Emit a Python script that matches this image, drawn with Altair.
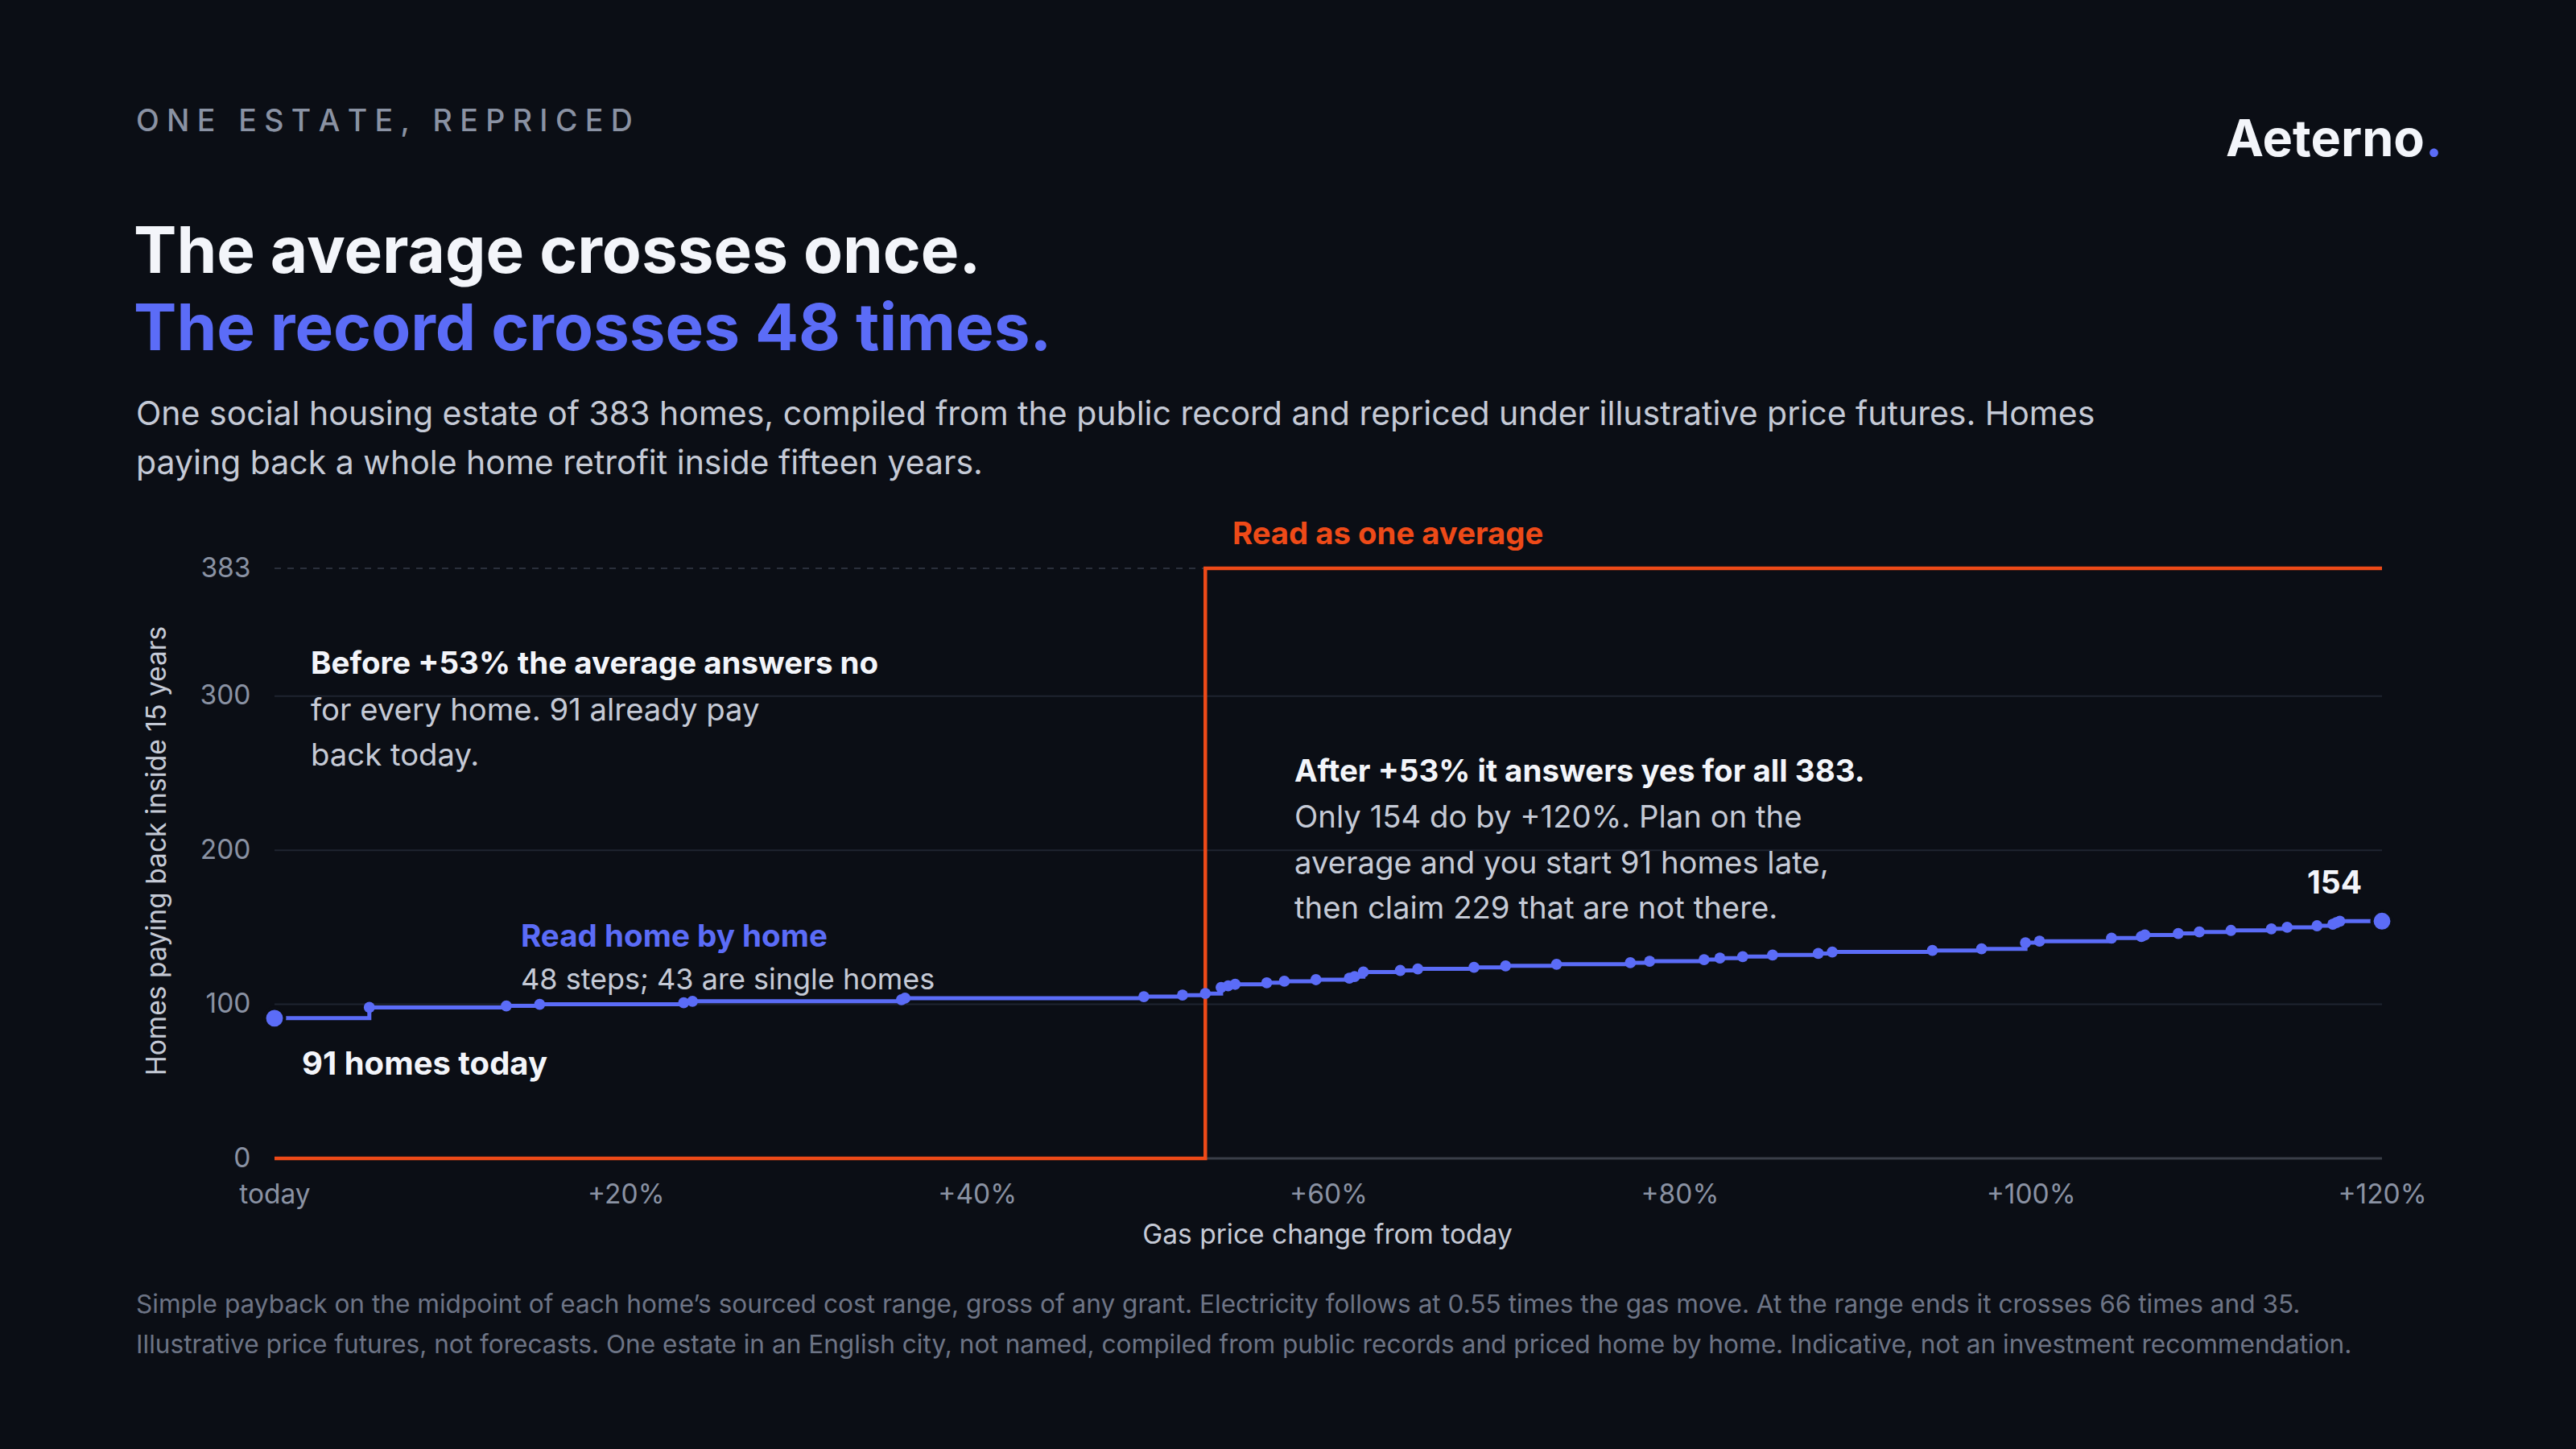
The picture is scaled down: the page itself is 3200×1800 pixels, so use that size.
import altair as alt
import pandas as pd

# ---------------- data ----------------
start_homes = 91
end_homes = 154
x_max = 120
avg_cross = 53
total_homes = 383

step_x = [5.4, 13.2, 15.1, 23.3, 23.8, 35.7, 35.9, 49.5, 51.7, 53.0,
          53.9, 54.3, 54.7, 56.5, 57.5, 59.3, 61.2, 61.5, 62.0, 64.1,
          65.1, 68.3, 70.1, 73.0, 77.2, 78.3, 81.4, 82.3, 83.6, 85.3,
          87.9, 88.7, 94.4, 97.2, 99.7, 100.5, 104.6, 106.3, 106.5, 108.4,
          109.6, 111.4, 113.7, 114.6, 116.3, 117.2, 117.4, 117.6]
step_homes = [98, 99, 100, 101, 102, 103, 104, 105, 106, 107,
              111, 112, 113, 114, 115, 116, 117, 118, 121, 122,
              123, 124, 125, 126, 127, 128, 129, 130, 131, 132,
              133, 134, 135, 136, 140, 141, 143, 144, 145, 146,
              147, 148, 149, 150, 151, 152, 153, 154]

avg_x = [0, avg_cross, x_max]
avg_homes = [0, total_homes, total_homes]

grid_vals = [100, 200, 300]
y_ticks = [0, 100, 200, 300, 383]
x_ticks = [0, 20, 40, 60, 80, 100, 120]

kicker = "ONE ESTATE, REPRICED"
title1 = "The average crosses once."
title2 = "The record crosses 48 times."
subtitle = ["One social housing estate of 383 homes, compiled from the public record and repriced under illustrative price futures. Homes",
            "paying back a whole home retrofit inside fifteen years."]
before_head = "Before +53% the average answers no"
before_body = ["for every home. 91 already pay", "back today."]
after_head = "After +53% it answers yes for all 383."
after_body = ["Only 154 do by +120%. Plan on the", "average and you start 91 homes late,",
              "then claim 229 that are not there."]
record_head = "Read home by home"
record_body = "48 steps; 43 are single homes"
avg_label = "Read as one average"
start_label = "91 homes today"
end_label = "154"
y_title = "Homes paying back inside 15 years"
x_title = "Gas price change from today"
footer = ["Simple payback on the midpoint of each home\u2019s sourced cost range, gross of any grant. Electricity follows at 0.55 times the gas move. At the range ends it crosses 66 times and 35.",
          "Illustrative price futures, not forecasts. One estate in an English city, not named, compiled from public records and priced home by home. Indicative, not an investment recommendation."]

# ---------------- style ----------------
BG = "#0b0e15"
WHITE = "#f3f5fa"
BODY = "#c5cad6"
GRAY = "#8a92a3"
FOOT = "#6d7485"
BLUE = "#5b6cf7"
ORANGE = "#ee4a18"
GRID = "#1f2430"
DOMAIN = "#3a3e48"
FONT = "Inter"

W, H = 2618, 733
PL, PT = 341, 706

xs = alt.Scale(domain=[0, x_max], nice=False, zero=False)
ys = alt.Scale(domain=[0, total_homes], nice=False)

line_df = pd.DataFrame({"x": [0] + step_x + [x_max],
                        "homes": [start_homes] + step_homes + [end_homes]})
step_df = pd.DataFrame({"x": step_x, "homes": step_homes})
ends_df = pd.DataFrame({"x": [0, x_max], "homes": [start_homes, end_homes]})
avg_df = pd.DataFrame({"x": avg_x, "homes": avg_homes})
grid_df = pd.DataFrame({"homes": grid_vals})
top_df = pd.DataFrame({"homes": [total_homes]})
zero_df = pd.DataFrame({"homes": [0]})

one = pd.DataFrame({"a": [0]})


def txt(text, X, Y, size, color, weight="normal", align="left", angle=0, baseline="alphabetic"):
    kw = dict(text=text, fontSize=size, color=color, font=FONT, fontWeight=weight,
              align=align, baseline=baseline)
    if angle:
        kw["angle"] = angle
    return alt.Chart(one).mark_text(**kw).encode(x=alt.value(X - PL), y=alt.value(Y - PT))


def spaced(s):
    # widely tracked kicker: narrow spaces between letters
    return "\u2005".join(s)


base_x = alt.X("x:Q", scale=xs,
               axis=alt.Axis(values=x_ticks, title=None, grid=False, ticks=False,
                             domain=False, labelColor=GRAY, labelFontSize=33.5, labelFont=FONT,
                             labelPadding=29, labelFlush=False,
                             labelExpr="datum.value == 0 ? 'today' : '+' + datum.value + '%'"))
base_y = alt.Y("homes:Q", scale=ys,
               axis=alt.Axis(values=y_ticks, title=None, grid=False, ticks=False,
                             domain=False, labelColor=GRAY, labelFontSize=33.5, labelFont=FONT,
                             labelPadding=30, labelFlush=False))

grid = alt.Chart(grid_df).mark_rule(color=GRID, strokeWidth=2).encode(
    y=alt.Y("homes:Q", scale=ys), x=alt.value(0), x2=alt.value(W))
top = alt.Chart(top_df).mark_rule(color="#2a2f3b", strokeWidth=2, strokeDash=[8, 8]).encode(
    y=alt.Y("homes:Q", scale=ys), x=alt.value(0), x2=alt.value(W))
zero = alt.Chart(zero_df).mark_rule(color=DOMAIN, strokeWidth=3).encode(
    y=alt.Y("homes:Q", scale=ys), x=alt.value(0), x2=alt.value(W))

avg_line = alt.Chart(avg_df).mark_line(color=ORANGE, strokeWidth=4.5, interpolate="step-after").encode(
    x=alt.X("x:Q", scale=xs), y=alt.Y("homes:Q", scale=ys))

rec_line = alt.Chart(line_df).mark_line(color=BLUE, strokeWidth=5, interpolate="step-after").encode(
    x=base_x, y=base_y)
dots = alt.Chart(step_df).mark_circle(color=BLUE, opacity=1, size=190).encode(
    x=alt.X("x:Q", scale=xs), y=alt.Y("homes:Q", scale=ys))
ends = alt.Chart(ends_df).mark_point(filled=True, fill=BLUE, opacity=1, size=620,
                                    stroke=BG, strokeWidth=4, shape="circle").encode(
    x=alt.X("x:Q", scale=xs), y=alt.Y("homes:Q", scale=ys))

texts = [
    txt(spaced(kicker), 169, 163, 37.5, GRAY, 500),
    txt("Aeterno", 3012, 194, 63, WHITE, "bold", align="right"),
    txt(".", 3013, 194, 63, BLUE, "bold"),
    txt(title1, 166, 339, 80, WHITE, "bold"),
    txt(title2, 166, 435, 80, BLUE, "bold"),
    txt(subtitle[0], 169, 528, 41, BODY),
    txt(subtitle[1], 169, 589, 41, BODY),
    txt(avg_label, 1531, 676, 38.3, ORANGE, "bold"),
    txt(before_head, 386, 837, 38.5, WHITE, "bold"),
    txt(before_body[0], 386, 895, 38.3, BODY),
    txt(before_body[1], 386, 951, 38.3, BODY),
    txt(after_head, 1608, 971, 38.5, WHITE, "bold"),
    txt(after_body[0], 1608, 1028, 38.3, BODY),
    txt(after_body[1], 1608, 1085, 38.3, BODY),
    txt(after_body[2], 1608, 1141, 38.3, BODY),
    txt(record_head, 647, 1176, 38.6, BLUE, "bold"),
    txt(record_body, 647, 1229, 36, BODY),
    txt(start_label, 375, 1335, 40, WHITE, "bold"),
    txt(end_label, 2900, 1110, 39, WHITE, "bold", align="center"),
    txt(y_title, 196, 1057, 33.6, BODY, angle=270, align="center", baseline="middle"),
    txt(x_title, 1649, 1535, 33.5, BODY, align="center", baseline="middle"),
    txt(footer[0], 169, 1631, 31.6, FOOT),
    txt(footer[1], 169, 1681, 31.6, FOOT),
]

chart = alt.layer(grid, top, zero, rec_line, avg_line, dots, ends, *texts).properties(
    width=W, height=H,
    autosize=alt.AutoSizeParams(type="none"),
    padding={"left": PL, "top": PT, "right": 3200 - PL - W, "bottom": 1800 - PT - H},
    background=BG,
).configure_view(stroke=None).configure_axis(labelFont=FONT)

chart.save("out.html", embed_options={"renderer": "svg", "actions": False})
